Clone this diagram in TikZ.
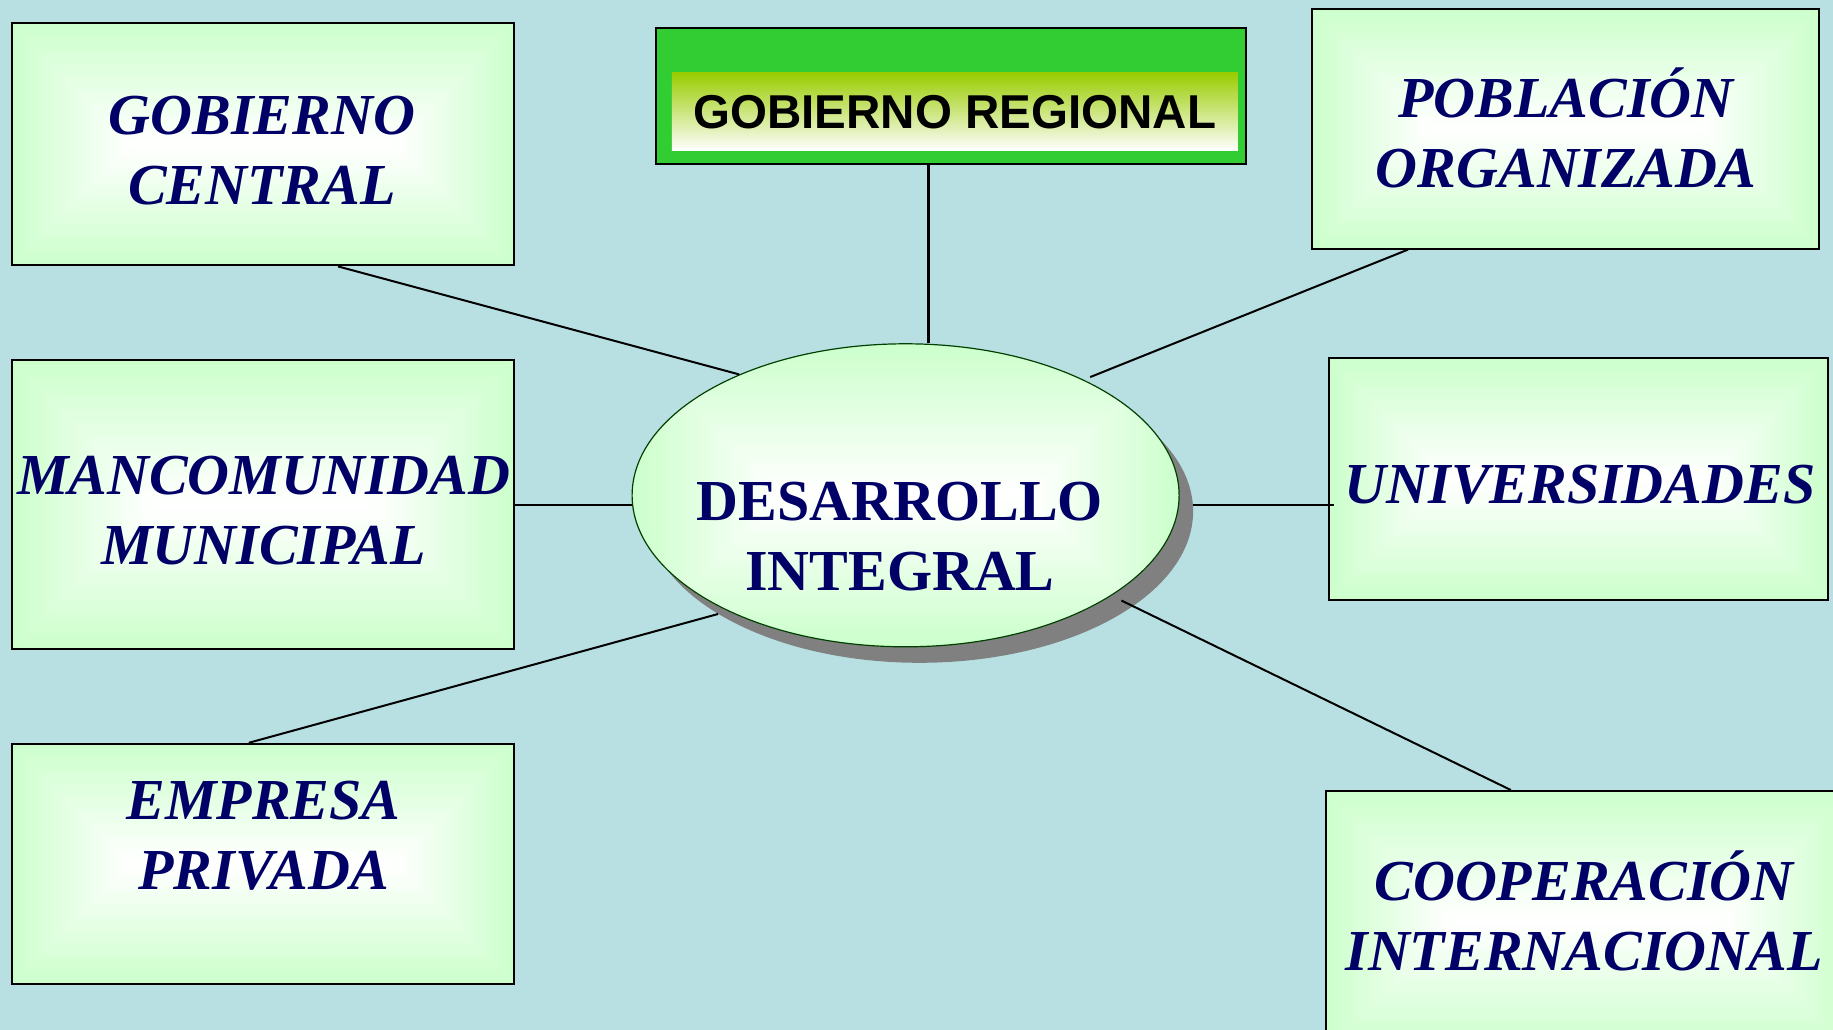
\documentclass[tikz,border=0pt]{standalone}
\usepackage{fontspec}
\setmainfont{Liberation Serif}
\newfontfamily\arialfont{Liberation Sans}
\usetikzlibrary{calc,shapes.geometric}
\definecolor{bgc}{RGB}{184,224,227}
\definecolor{paleg}{RGB}{204,255,204}
\definecolor{navy}{RGB}{0,0,102}
\definecolor{limeg}{RGB}{50,205,50}
\definecolor{oliveg}{RGB}{153,204,0}
\definecolor{edgeg}{RGB}{0,64,0}
\definecolor{shadowg}{RGB}{128,128,128}
\tikzset{
  ringfill/.style={path picture={%
    \pgfpointdiff{\pgfpointanchor{path picture bounding box}{south west}}{\pgfpointanchor{path picture bounding box}{north east}}%
    \pgfgetlastxy{\rfw}{\rfh}%
    \pgfmathsetmacro\rfhalf{\rfh/2}%
    \foreach \k in {0,...,30}{%
      \pgfmathsetmacro\rfins{\k*\rfhalf/31}%
      \pgfmathsetmacro\rfpc{\k*100/30}%
      \fill[white!\rfpc!paleg] ([shift={(\rfins pt,\rfins pt)}]path picture bounding box.south west) rectangle ([shift={(-\rfins pt,-\rfins pt)}]path picture bounding box.north east);
    }}},
  gbox/.style={draw=black, line width=2pt, ringfill, inner sep=0pt},
  btxt/.style={text=navy, font=\fontsize{58}{70}\selectfont\bfseries\itshape, anchor=base, inner sep=0pt},
  etxt/.style={text=navy, font=\fontsize{58}{70}\selectfont\bfseries, anchor=base, inner sep=0pt},
  link/.style={draw=black, line width=2pt}
}
\begin{document}
\begin{tikzpicture}[x=1pt,y=-1pt]
\useasboundingbox (0,0) rectangle (1833,1030);
\clip (0,0) rectangle (1833,1030);
\fill[bgc] (0,0) rectangle (1833,1030);

% central ellipse with shadow
\node[ellipse, fill=shadowg, minimum width=547pt, minimum height=303pt, inner sep=0pt] (dish) at (919.6,511.3) {};
\node[ellipse, draw=edgeg, line width=1.2pt, ringfill, minimum width=547pt, minimum height=303pt, inner sep=0pt] (di) at (905.6,495.3) {};
\node[etxt] (dit) at (900,520.5) {\begin{tabular}[t]{@{}c@{}}DESARROLLO\\INTEGRAL\end{tabular}};

% gobierno regional
\node[draw=black, line width=2pt, fill=limeg, minimum width=590pt, minimum height=136pt, inner sep=0pt] (gr) at (951,96) {};
\node[top color=oliveg, bottom color=white, minimum width=566pt, minimum height=78pt, inner sep=0pt,
      font=\arialfont\bfseries\fontsize{47.5}{50}\selectfont] (grt) at (954.8,111.8) {GOBIERNO REGIONAL};

% boxes
\node[gbox, minimum width=502pt, minimum height=242pt] (gc) at (262.9,144.4) {};
\node[gbox, minimum width=507pt, minimum height=240pt] (po) at (1565.3,128.6) {};
\node[gbox, minimum width=502pt, minimum height=289pt] (mm) at (262.9,504.5) {};
\node[gbox, minimum width=499pt, minimum height=242pt] (un) at (1578.5,479) {};
\node[gbox, minimum width=502pt, minimum height=240pt] (ep) at (262.9,863.8) {};
\node[gbox, minimum width=524pt, minimum height=259pt] (co) at (1587.8,920.5) {};

\node[btxt] (gct) at (262,135) {\begin{tabular}[t]{@{}c@{}}GOBIERNO\\CENTRAL\end{tabular}};
\node[btxt] (pot) at (1566,118) {\begin{tabular}[t]{@{}c@{}}POBLACIÓN\\ORGANIZADA\end{tabular}};
\node[btxt] (mmt) at (263.6,494) {\begin{tabular}[t]{@{}c@{}}MANCOMUNIDAD\\MUNICIPAL\end{tabular}};
\node[btxt] (unt) at (1580,503.5) {UNIVERSIDADES};
\node[btxt] (ept) at (263.6,819.5) {\begin{tabular}[t]{@{}c@{}}EMPRESA\\PRIVADA\end{tabular}};
\node[btxt] (cot) at (1584,900) {\begin{tabular}[t]{@{}c@{}}COOPERACIÓN\\INTERNACIONAL\end{tabular}};

% attach points
\coordinate (gcA) at ($(gc.south west)!0.649!(gc.south east)$);
\coordinate (poA) at ($(po.south west)!0.191!(po.south east)$);
\coordinate (epA) at ($(ep.north west)!0.472!(ep.north east)$);
\coordinate (coA) at ([xshift=186pt]co.north west);

% connectors
\draw[link, line width=3pt] ([xshift=-23pt]gr.south) -- ([xshift=-23pt]gr.south |- di.north);
\draw[link] (gcA) -- (di.144.8);
\draw[link, shorten >=7pt] (poA) -- (di.33);
\draw[link] (mm.east) -- (mm.east -| di.west);
\draw[link] (dish.east |- mm.east) -- ([xshift=6pt]un.west |- mm.east);
\draw[link] (epA) -- (dish.207.6);
\draw[link, shorten <=11pt] (di.-26) -- (coA);
\end{tikzpicture}
\end{document}
